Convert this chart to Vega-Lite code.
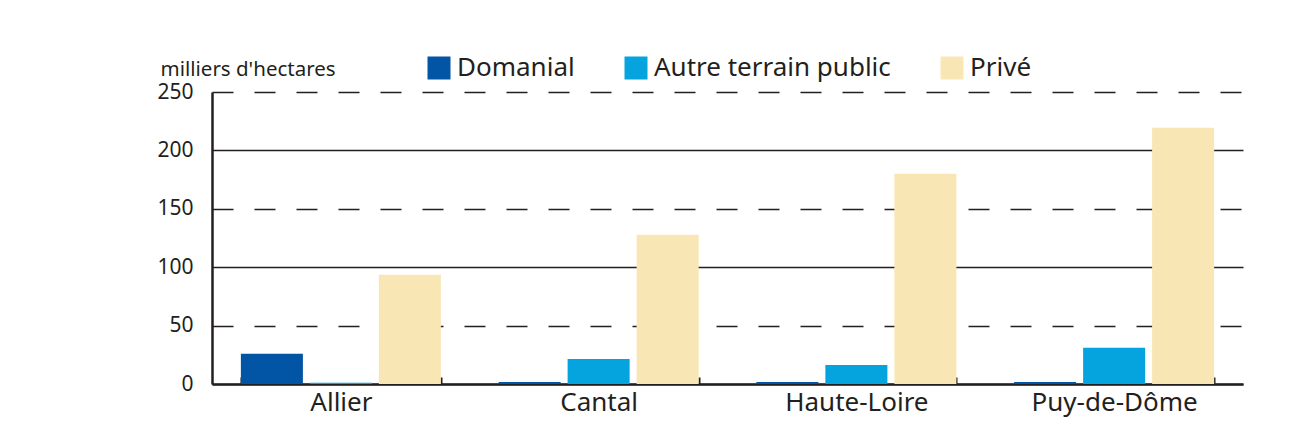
{
  "$schema": "https://vega.github.io/schema/vega-lite/v6.json",
  "width": 1031,
  "height": 292,
  "autosize": {"type": "none"},
  "padding": {"left": 212, "top": 92, "right": 65, "bottom": 59},
  "background": "white",
  "data": {
    "values": [
      {"departement": "Allier", "type": "Domanial", "valeur": 26},
      {"departement": "Allier", "type": "Autre terrain public", "valeur": 1},
      {"departement": "Allier", "type": "Privé", "valeur": 93.5},
      {"departement": "Cantal", "type": "Domanial", "valeur": 1.8},
      {"departement": "Cantal", "type": "Autre terrain public", "valeur": 21.5},
      {"departement": "Cantal", "type": "Privé", "valeur": 127.7},
      {"departement": "Haute-Loire", "type": "Domanial", "valeur": 1.8},
      {"departement": "Haute-Loire", "type": "Autre terrain public", "valeur": 16.3},
      {"departement": "Haute-Loire", "type": "Privé", "valeur": 180},
      {"departement": "Puy-de-Dôme", "type": "Domanial", "valeur": 1.8},
      {"departement": "Puy-de-Dôme", "type": "Autre terrain public", "valeur": 31},
      {"departement": "Puy-de-Dôme", "type": "Privé", "valeur": 219.4}
    ]
  },
  "mark": {"type": "bar"},
  "encoding": {
    "x": {
      "field": "departement",
      "type": "nominal",
      "sort": ["Allier", "Cantal", "Haute-Loire", "Puy-de-Dôme"],
      "scale": {"paddingInner": 0.224, "paddingOuter": 0.112},
      "axis": {
        "title": null,
        "labelAngle": 0,
        "labelFontSize": 26,
        "labelColor": "#231f20",
        "labelBaseline": "top",
        "labelPadding": 12,
        "tickBand": "extent",
        "ticks": true,
        "tickSize": -7,
        "tickWidth": 2,
        "tickColor": "#231f20",
        "domainColor": "#231f20",
        "domainWidth": 2.5,
        "grid": false
      }
    },
    "xOffset": {
      "field": "type",
      "type": "nominal",
      "sort": ["Domanial", "Autre terrain public", "Privé"],
      "scale": {"paddingInner": 0.101, "paddingOuter": 0}
    },
    "y": {
      "field": "valeur",
      "type": "quantitative",
      "scale": {"domain": [0, 250], "nice": false},
      "axis": {
        "title": "milliers d'hectares",
        "titleAngle": 0,
        "titleAlign": "left",
        "titleBaseline": "alphabetic",
        "titleX": -52,
        "titleY": -17,
        "titleFontSize": 20.5,
        "titleFontWeight": "normal",
        "titleColor": "#231f20",
        "values": [0, 50, 100, 150, 200, 250],
        "labelFontSize": 21,
        "labelColor": "#231f20",
        "labelPadding": 19,
        "ticks": false,
        "domainColor": "#231f20",
        "domainWidth": 2.5,
        "grid": true,
        "gridColor": "#231f20",
        "gridWidth": 1.3,
        "gridDash": {"condition": {"test": "datum.value % 100 === 0", "value": []}, "value": [21, 21]}
      }
    },
    "color": {
      "field": "type",
      "type": "nominal",
      "sort": ["Domanial", "Autre terrain public", "Privé"],
      "scale": {
        "domain": ["Domanial", "Autre terrain public", "Privé"],
        "range": ["#0254a5", "#05a4df", "#f9e6b5"]
      },
      "legend": {
        "title": null,
        "orient": "none",
        "direction": "horizontal",
        "legendX": 214,
        "legendY": -37,
        "padding": 0,
        "symbolType": "square",
        "symbolSize": 529,
        "symbolStrokeWidth": 0,
        "symbolOpacity": 1,
        "labelFontSize": 26,
        "labelColor": "#231f20",
        "labelLimit": 400,
        "labelOffset": 5,
        "columnPadding": 48
      }
    }
  },
  "config": {
    "view": {"stroke": null},
    "font": "Noto Sans",
    "bar": {"opacity": 1}
  }
}
